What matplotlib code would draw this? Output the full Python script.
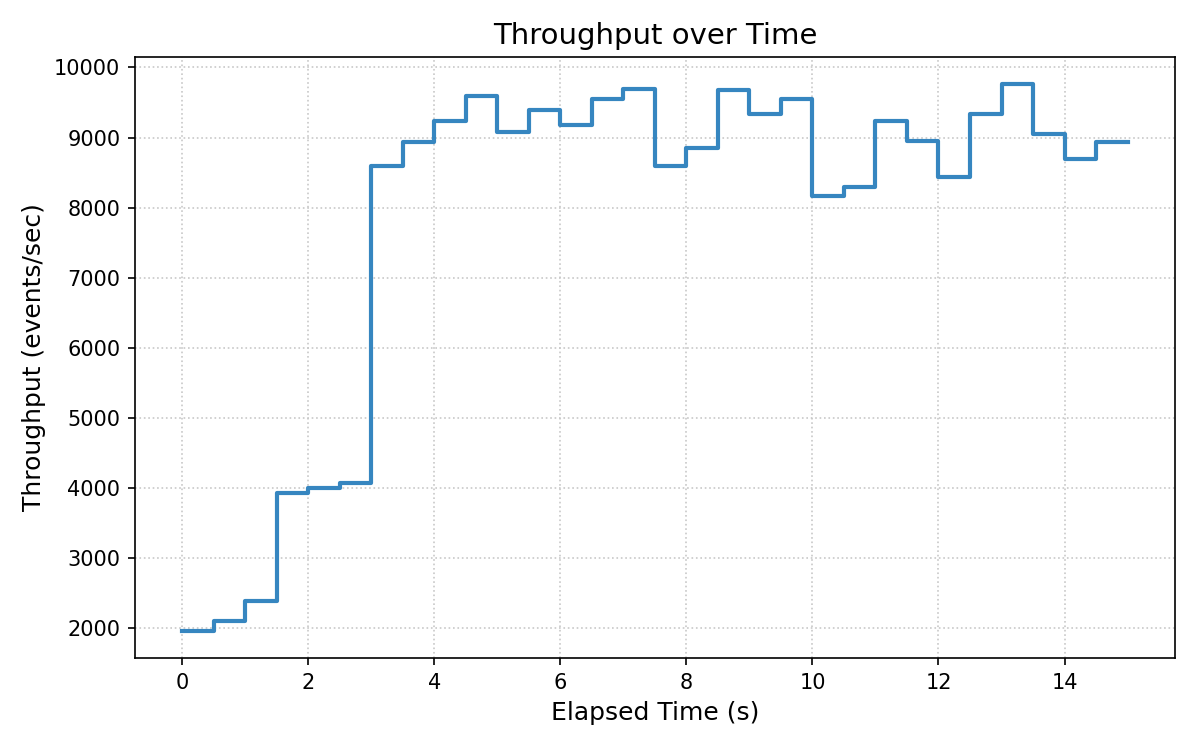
import numpy as np
import matplotlib
matplotlib.use("Agg")
import matplotlib.pyplot as plt

# elapsed time in seconds, one sample every 0.5 s
elapsed = [0.0, 0.5, 1.0, 1.5, 2.0, 2.5, 3.0, 3.5, 4.0, 4.5,
           5.0, 5.5, 6.0, 6.5, 7.0, 7.5, 8.0, 8.5, 9.0, 9.5,
           10.0, 10.5, 11.0, 11.5, 12.0, 12.5, 13.0, 13.5, 14.0, 14.5, 15.0]

# throughput in events/sec
throughput = [1965, 2100, 2395, 3930, 4000, 4070, 8600, 8930, 9240, 9600,
              9085, 9400, 9185, 9555, 9695, 8600, 8845, 9680, 9330, 9555,
              8160, 8290, 9230, 8945, 8440, 9330, 9760, 9045, 8700, 8940, 8940]

fig, ax = plt.subplots(figsize=(8, 5), dpi=150)

ax.step(elapsed, throughput, where="post", color="#3686c0", linewidth=2)

ax.set_title("Throughput over Time", fontsize=14)
ax.set_xlabel("Elapsed Time (s)", fontsize=12)
ax.set_ylabel("Throughput (events/sec)", fontsize=12)
ax.grid(True, linestyle=":", color="#c8c8c8", linewidth=0.8)

plt.subplots_adjust(left=0.1125, right=0.979, top=0.924, bottom=0.1227)
plt.savefig("out.png", dpi=150)
